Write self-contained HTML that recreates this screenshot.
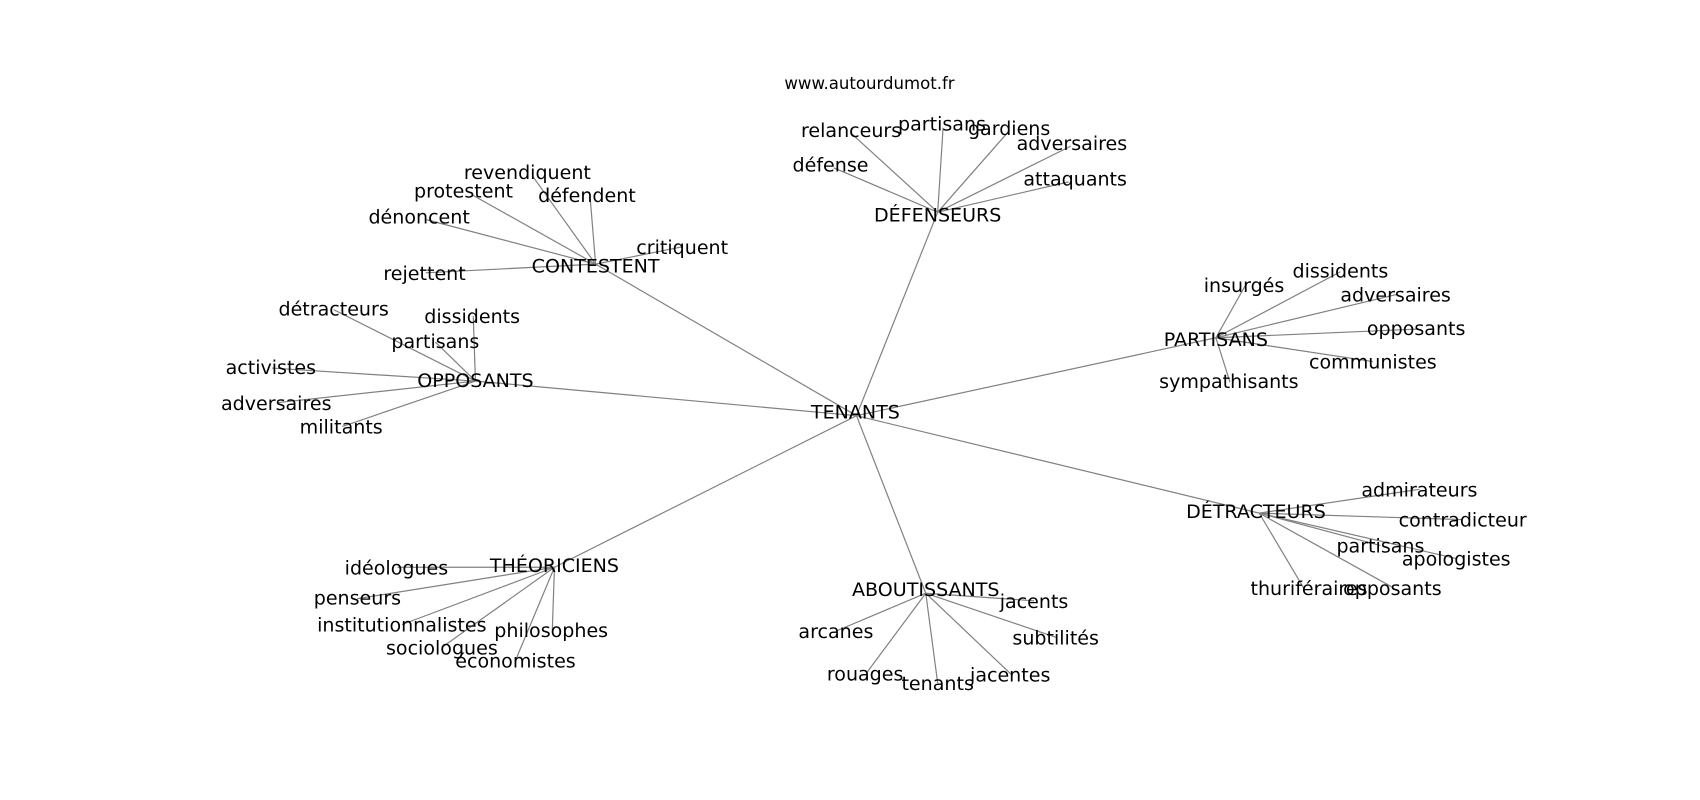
<!DOCTYPE html>
<html><head><meta charset="utf-8"><style>
html,body{margin:0;padding:0;background:#fff;}
svg{display:block;}
text{font-family:"DejaVu Sans","Liberation Sans",sans-serif;font-size:17.6px;fill:#000;text-anchor:middle;dominant-baseline:central;}
line{stroke:#808080;stroke-width:1.1;}
</style></head><body>
<svg width="1700" height="800" viewBox="0 0 1570 739" xmlns="http://www.w3.org/2000/svg">
<g>
<line x1="791" y1="384" x2="866" y2="196"/>
<line x1="791" y1="384" x2="550" y2="244"/>
<line x1="791" y1="384" x2="439" y2="352"/>
<line x1="791" y1="384" x2="1123" y2="312"/>
<line x1="791" y1="384" x2="1163" y2="474"/>
<line x1="791" y1="384" x2="855" y2="548"/>
<line x1="791" y1="384" x2="512" y2="524"/>

<line x1="866" y1="196" x2="787" y2="124"/>
<line x1="866" y1="196" x2="871" y2="118"/>
<line x1="866" y1="196" x2="931" y2="122"/>
<line x1="866" y1="196" x2="989" y2="135"/>
<line x1="866" y1="196" x2="987" y2="168"/>
<line x1="866" y1="196" x2="770" y2="155"/>

<line x1="550" y1="244" x2="492" y2="163"/>
<line x1="550" y1="244" x2="545" y2="183"/>
<line x1="550" y1="244" x2="436" y2="180"/>
<line x1="550" y1="244" x2="394" y2="203"/>
<line x1="550" y1="244" x2="393" y2="252"/>
<line x1="550" y1="244" x2="630" y2="228"/>

<line x1="439" y1="352" x2="308" y2="286"/>
<line x1="439" y1="352" x2="437" y2="292"/>
<line x1="439" y1="352" x2="402" y2="316"/>
<line x1="439" y1="352" x2="251" y2="340"/>
<line x1="439" y1="352" x2="256" y2="372"/>
<line x1="439" y1="352" x2="316" y2="394"/>

<line x1="1123" y1="312" x2="1150" y2="264"/>
<line x1="1123" y1="312" x2="1238" y2="251"/>
<line x1="1123" y1="312" x2="1290" y2="272"/>
<line x1="1123" y1="312" x2="1309" y2="304"/>
<line x1="1123" y1="312" x2="1268" y2="334"/>
<line x1="1123" y1="312" x2="1136" y2="353"/>

<line x1="1163" y1="474" x2="1311" y2="452"/>
<line x1="1163" y1="474" x2="1351" y2="480"/>
<line x1="1163" y1="474" x2="1275" y2="504"/>
<line x1="1163" y1="474" x2="1345" y2="516"/>
<line x1="1163" y1="474" x2="1204" y2="543"/>
<line x1="1163" y1="474" x2="1287" y2="543"/>

<line x1="855" y1="548" x2="955" y2="555"/>
<line x1="855" y1="548" x2="976" y2="589"/>
<line x1="855" y1="548" x2="934" y2="623"/>
<line x1="855" y1="548" x2="866" y2="631"/>
<line x1="855" y1="548" x2="800" y2="622"/>
<line x1="855" y1="548" x2="772" y2="583"/>

<line x1="512" y1="524" x2="367" y2="524"/>
<line x1="512" y1="524" x2="330" y2="553"/>
<line x1="512" y1="524" x2="371" y2="577"/>
<line x1="512" y1="524" x2="408" y2="598"/>
<line x1="512" y1="524" x2="476" y2="610"/>
<line x1="512" y1="524" x2="510" y2="582"/>
</g>
<g transform="translate(0,1)">
<text x="803" y="76" style="font-size:15.3px">www.autourdumot.fr</text>
<text x="790" y="380">TENANTS</text>
<text x="866" y="198">DÉFENSEURS</text>
<text x="786" y="120">relanceurs</text>
<text x="870" y="114">partisans</text>
<text x="932" y="118">gardiens</text>
<text x="990" y="132">adversaires</text>
<text x="993" y="165">attaquants</text>
<text x="767" y="152">défense</text>

<text x="550" y="245">CONTESTENT</text>
<text x="487" y="159">revendiquent</text>
<text x="542" y="180">défendent</text>
<text x="428" y="176">protestent</text>
<text x="387" y="200">dénoncent</text>
<text x="392" y="252">rejettent</text>
<text x="630" y="228">critiquent</text>

<text x="439" y="351">OPPOSANTS</text>
<text x="308" y="285">détracteurs</text>
<text x="436" y="292">dissidents</text>
<text x="402" y="315">partisans</text>
<text x="250" y="339">activistes</text>
<text x="255" y="372">adversaires</text>
<text x="315" y="394">militants</text>

<text x="1123" y="313">PARTISANS</text>
<text x="1149" y="263">insurgés</text>
<text x="1238" y="250">dissidents</text>
<text x="1289" y="272">adversaires</text>
<text x="1308" y="303">opposants</text>
<text x="1268" y="334">communistes</text>
<text x="1135" y="352">sympathisants</text>

<text x="1160" y="472">DÉTRACTEURS</text>
<text x="1311" y="452">admirateurs</text>
<text x="1351" y="480">contradicteur</text>
<text x="1275" y="504">partisans</text>
<text x="1345" y="516">apologistes</text>
<text x="1209" y="543">thuriféraires</text>
<text x="1286" y="543">opposants</text>

<text x="855" y="544">ABOUTISSANTS</text>
<text x="955" y="555">jacents</text>
<text x="975" y="589">subtilités</text>
<text x="933" y="623">jacentes</text>
<text x="866" y="631">tenants</text>
<text x="799" y="622">rouages</text>
<text x="772" y="583">arcanes</text>

<text x="512" y="522">THÉORICIENS</text>
<text x="366" y="524">idéologues</text>
<text x="330" y="552">penseurs</text>
<text x="371" y="577">institutionnalistes</text>
<text x="408" y="598">sociologues</text>
<text x="476" y="610">économistes</text>
<text x="509" y="582">philosophes</text>
</g>
</svg>
</body></html>
